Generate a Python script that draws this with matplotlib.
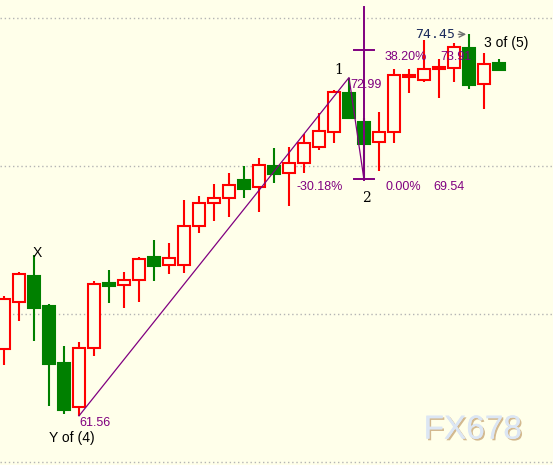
import matplotlib.pyplot as plt
from matplotlib.patches import Rectangle
import matplotlib.patheffects as pe

# ==========================================
# Data
# ==========================================
opens = [63.81, 65.42, 66.28, 65.27, 63.34, 61.85, 63.84, 66.04, 65.99, 66.14,
         66.92, 66.66, 66.65, 67.96, 68.74, 68.91, 69.52, 69.28, 70.00, 69.75,
         70.09, 70.63, 71.14, 72.47, 71.49, 70.80, 71.14, 73.02, 72.90, 73.27,
         73.30, 73.99, 72.77, 73.48]
closes = [65.50, 66.35, 65.21, 63.32, 61.77, 63.84, 66.01, 65.96, 66.15, 66.85,
          66.61, 66.88, 67.96, 68.74, 68.91, 69.35, 69.21, 70.02, 69.74, 70.09,
          70.77, 71.18, 72.49, 71.63, 70.75, 71.14, 73.06, 73.07, 73.27, 73.33,
          74.01, 72.75, 73.44, 73.25]
highs = [65.61, 66.42, 66.99, 65.34, 63.92, 64.05, 66.10, 66.49, 66.42, 66.92,
         67.50, 67.39, 68.85, 68.99, 69.39, 69.75, 70.00, 70.28, 70.61, 70.63,
         71.09, 71.78, 72.57, 72.99, 71.62, 71.81, 73.28, 73.28, 74.26, 73.60,
         74.17, 74.45, 73.81, 73.60]
lows = [63.28, 64.77, 64.10, 61.90, 61.63, 61.56, 63.59, 65.38, 65.21, 65.42,
        66.13, 66.36, 66.37, 67.75, 68.15, 68.29, 68.91, 68.46, 69.44, 68.66,
        69.75, 70.55, 70.79, 71.61, 69.54, 69.84, 70.77, 72.46, 72.83, 72.31,
        72.85, 72.61, 71.94, 73.25]

grid_levels = [60, 65, 70, 75]

# wave points: (bar index, price)
wave_x = [5, 23, 24]
wave_y = [61.56, 72.99, 69.54]
fib_top = 73.91

BG = '#ffffea'
RED = '#ff0000'
GREEN = '#008000'
PURPLE = '#800080'

fig = plt.figure(figsize=(5.53, 4.65), dpi=100)
fig.patch.set_facecolor(BG)
ax = fig.add_axes([0, 0, 1, 1])
ax.set_facecolor(BG)
ax.set_xlim(-0.267, 36.6)
ax.set_ylim(59.9, 75.61)
ax.axis('off')

# dotted grid
for g in grid_levels:
    ax.axhline(g, color='#b4b4b4', linestyle=(0, (1, 2)), linewidth=1.0, zorder=0)

# ==========================================
# Candles
# ==========================================
w = 0.8
for i, (o, c, h, l) in enumerate(zip(opens, closes, highs, lows)):
    up = c >= o
    col = RED if up else GREEN
    ax.plot([i, i], [l, h], color=col, linewidth=1.5, zorder=2, solid_capstyle='butt')
    lo, hi = min(o, c), max(o, c)
    ax.add_patch(Rectangle((i - w / 2, lo), w, max(hi - lo, 0.02),
                           facecolor=BG if up else GREEN, edgecolor=col,
                           linewidth=1.5, zorder=3))

# ==========================================
# Wave lines and markers
# ==========================================
ax.plot(wave_x, wave_y, color=PURPLE, linewidth=0.9, zorder=4)
ax.plot([24, 24], [69.54, 75.36], color=PURPLE, linewidth=1.4, zorder=4)
ax.plot([23.33, 24.67], [fib_top, fib_top], color=PURPLE, linewidth=1.4, zorder=4)
ax.plot([23.33, 24.67], [69.55, 69.55], color=PURPLE, linewidth=1.4, zorder=4)

lbl = dict(color=PURPLE, fontsize=9, family='Liberation Sans', va='center', ha='left', zorder=5)
ax.text(23.07, 72.74, '72.99', **lbl)
ax.text(19.47, 69.30, '-30.18%', **lbl)
ax.text(25.4, 69.30, '0.00%', **lbl)
ax.text(28.6, 69.30, '69.54', **lbl)
ax.text(25.35, 73.67, '38.20%', **lbl)
ax.text(29.07, 73.67, '73.91', **lbl)
ax.text(5.02, 61.31, '61.56', **lbl)

blk = dict(color='black', fontsize=10, va='center', ha='center', zorder=5)
ax.text(22.3, 73.24, '1', family='DejaVu Serif', **blk)
ax.text(24.18, 68.92, '2', family='DejaVu Serif', **blk)
ax.text(2.22, 67.05, 'X', family='Liberation Sans', **blk)
ax.text(4.51, 60.80, 'Y of (4)', family='Liberation Sans', **blk)
ax.text(33.45, 74.17, '3 of (5)', family='Liberation Sans', **blk)

# high marker
ax.text(30.07, 74.45, '74.45', color='#1c2c5c', fontsize=9.5, family='DejaVu Sans Mono',
        ha='right', va='center', zorder=5)
ax.annotate('', xy=(31.0, 74.45), xytext=(30.1, 74.45),
            arrowprops=dict(arrowstyle='->', color='#707070', lw=1.0), zorder=5)

# watermark
ax.text(0.855, 0.075, 'FX678', transform=ax.transAxes, fontsize=24, color='#dce6f4',
        family='Liberation Sans', ha='center', va='center', zorder=1,
        path_effects=[pe.withSimplePatchShadow(offset=(1.2, -1.2), shadow_rgbFace='#c8a878', alpha=0.8),
                      pe.Normal()])

plt.savefig('out.png', dpi=100, facecolor=BG)
plt.close()
